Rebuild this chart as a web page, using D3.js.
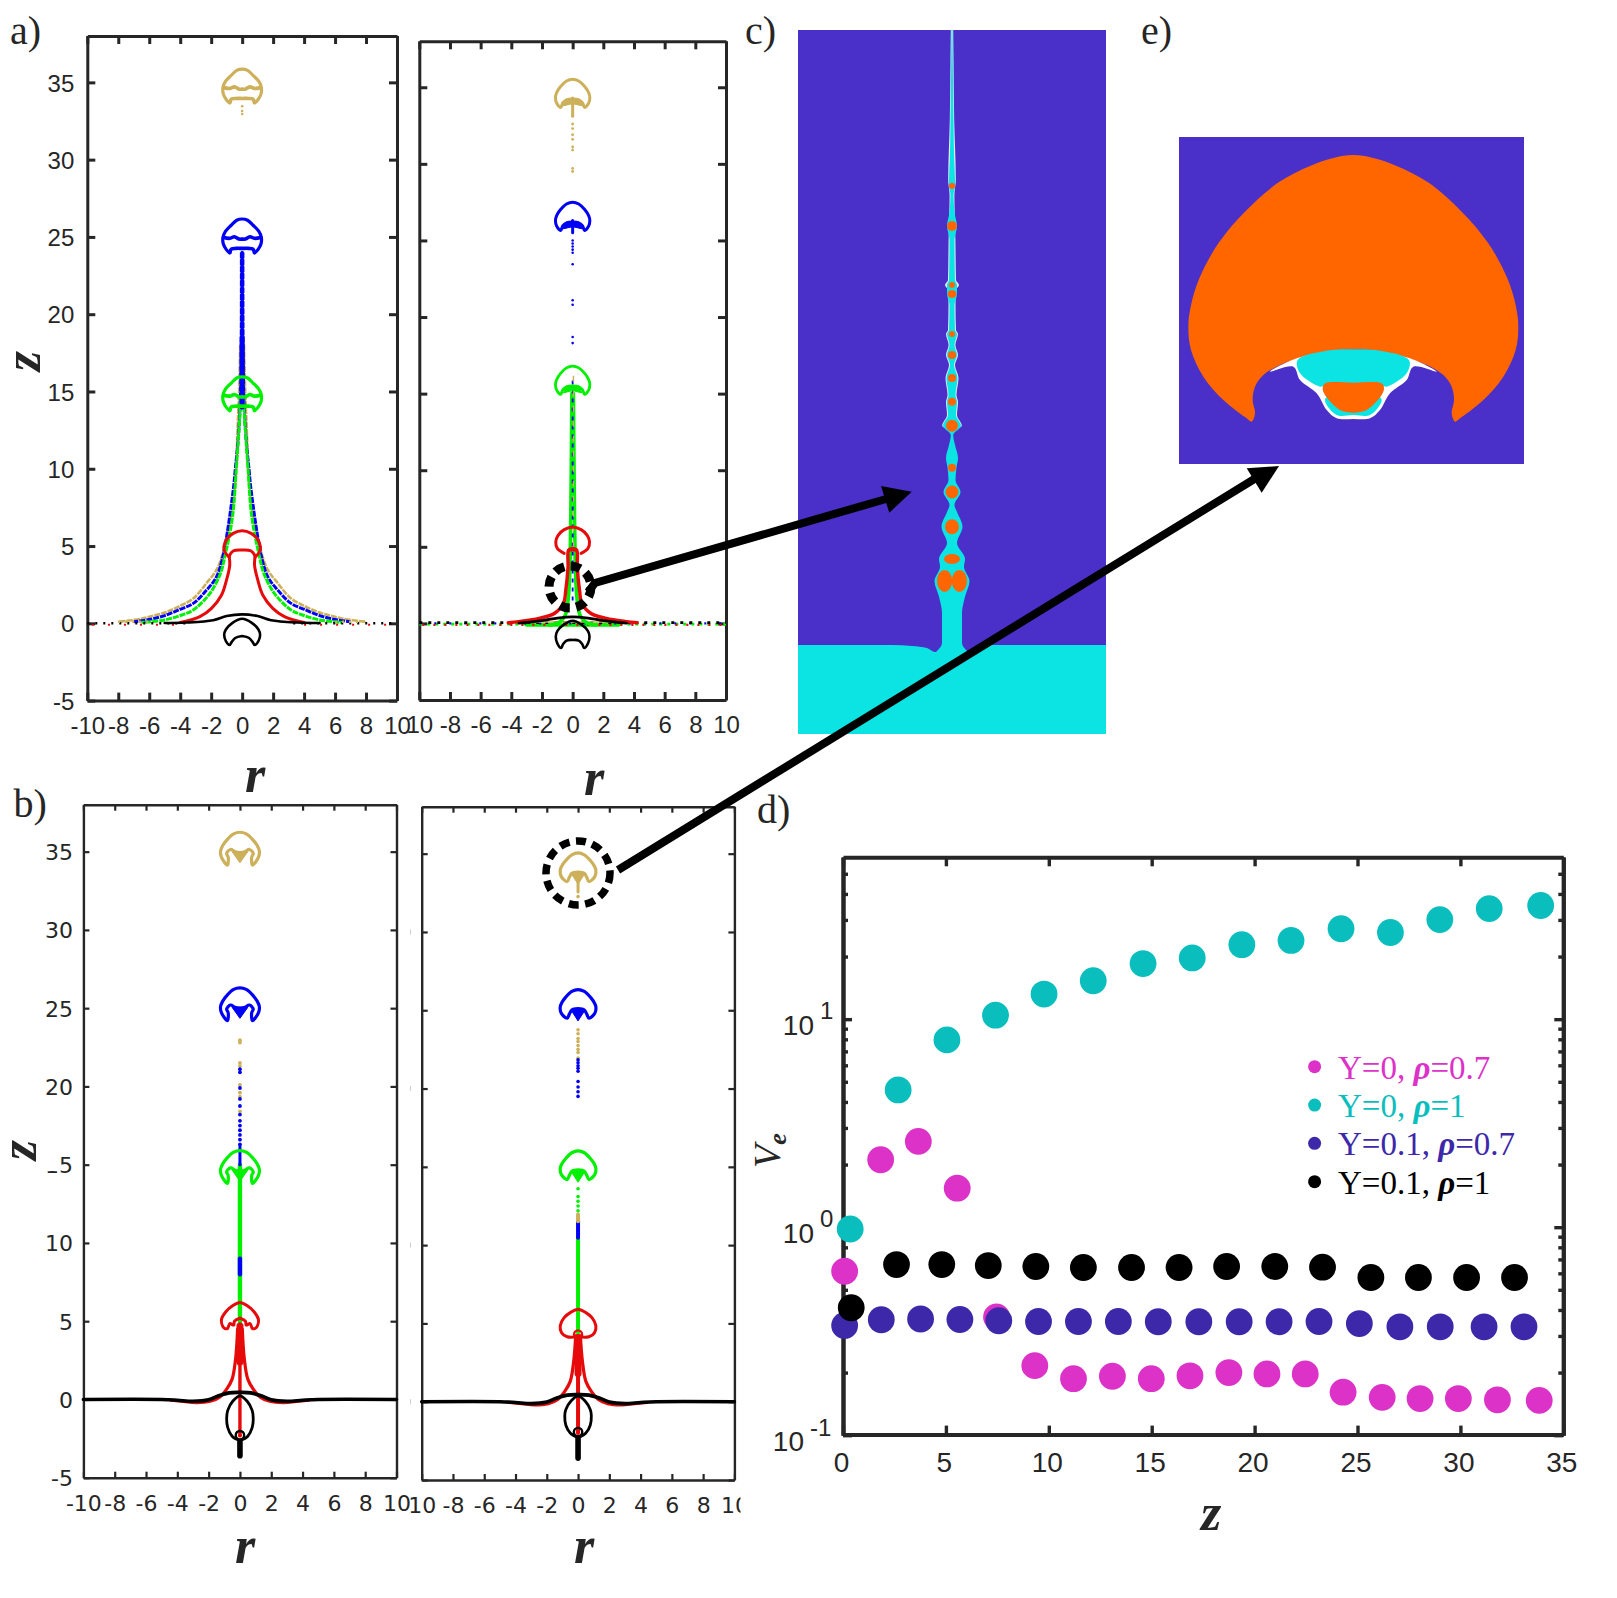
<!DOCTYPE html>
<html>
<head>
<meta charset="utf-8">
<script src="https://cdn.jsdelivr.net/npm/d3@7"></script>
<style>
  html, body { margin: 0; padding: 0; background: #fff; }
  svg { display: block; }
</style>
</head>
<body>
<svg id="chart" width="1617" height="1598"></svg>
<script>
// ---- contour data, all in r / z units, half profiles start on the axis ----
const rTicks = [-10, -8, -6, -4, -2, 0, 2, 4, 6, 8, 10];
const zTicks = [-5, 0, 5, 10, 15, 20, 25, 30, 35];
const gold = '#cdb05a', blue = '#0000f5', green = '#00f000', red = '#e60a0a', black = '#000';

// panel a, left
const a1CapOutline = [[0,0],[.35,-.08],[.72,-.42],[1.08,-.8],[1.24,-1.2],[1.22,-1.6],[1.02,-1.98],[.8,-2.2]];
const a1CapArc = [[0,-1.3],[.2,-1.3],[.5,-1.15],[.8,-1.25],[1.2,-1.2]];
const a1CapLow = [[0,-1.9],[.4,-1.9],[.7,-1.95],[.78,-2.15]];
const a1CapTops = [35.86, 26.16, 15.95];
const a1SkirtGold = [[.12,18],[.2,15],[.3,12.5],[.43,9.27],[.69,7.1],[1.23,4.6],[1.66,3.45],[2.3,2.6],[3.16,1.6],[4.02,1.12],[4.84,.75],[5.5,.55],[6.5,.3],[8,.1]];
const a1SkirtBlue = [[.05,24],[.1,15],[.25,12],[.44,10],[.58,8.6],[1.23,4.4],[1.66,3],[2.3,2.15],[3.16,1.29],[4.02,.9],[5,.5],[6,.25],[7,.1]];
const a1SkirtGreen = [[.08,14.5],[.22,12.3],[.38,10],[.62,6.9],[1.12,4.3],[1.4,3.23],[2.08,1.94],[3.16,.86],[3.9,.54],[5,.22],[6.5,.05]];
const a1SkirtRed = [[.84,4.35],[.8,3.77],[1.01,2.8],[1.33,1.83],[1.98,.97],[2.73,.43],[3.38,.2],[4,.05]];
const a1RedCap = [[0,5.99],[.58,5.82],[1,5.43],[1.18,4.96],[1.12,4.63],[.84,4.27]];
const a1RedArch = [[0,4.74],[.58,4.68],[.84,4.35]];
const a1BlackHump = [[0,.58],[1,.47],[1.87,.2],[3.6,.05],[5,.02]];
const crescent = [[0,.3],[.6,.05],[1.05,-.4],[1.16,-.75],[1.05,-1.15],[.8,-1.4],[.7,-1.25],[.45,-.95],[0,-.82]];
const a1TailGold = [33.45, 33.15, 32.95];

// panel a, right
const a2Cap = [[0,0],[.4,-.12],[.8,-.5],[1.05,-.9],[1.12,-1.2],[1.05,-1.55],[.78,-1.85],[.65,-1.55],[.4,-1.35],[0,-1.3]];
const a2CapTops = [35.53, 27.5, 16.8];
const a2TailGold = [32.6, 32.3, 31.9, 31.6, 31.1, 30.9, 29.7, 29.5];
const a2TailBlue = [25, 24.8, 24.6, 24.4, 24.2, 23.45, 21.1, 20.8, 18.7, 18.3];
const a2RedCap = [[0,6.3],[.55,6.12],[.95,5.75],[1.1,5.33],[1,4.9],[.55,4.57]];
const a2RedNeck = [[.02,4.87],[.26,4.79],[.3,3.66],[.45,2.15],[.6,1.3],[1.2,.65],[2.2,.33],[3.5,.12],[4.2,.04]];
const a2GreenNeck = [[.05,15],[.12,7],[.16,4.5],[.2,3],[.3,1.5],[.5,.5],[.9,.05],[1.5,-.1]];
const a2BlackHump = [[0,.43],[1,.35],[1.9,.2],[3.5,.02]];
const a2Crescent = [[0,.17],[.6,-.1],[1,-.5],[1.1,-.86],[1,-1.3],[.75,-1.6],[.62,-1.35],[.4,-1.12],[0,-1.08]];

// panel b, left
const b1Cap = [[0,0],[.4,-.1],[.8,-.45],[1.1,-.85],[1.24,-1.2],[1.2,-1.55],[1,-1.9],[.8,-2.1],[.75,-1.6],[.85,-1.35],[.6,-1.1],[.3,-1.25],[0,-1.3]];
const b1Wedge = [[0,-1.95],[.5,-1.25],[0,-1.25]];
const b1CapTops = [36.24, 26.3, 15.9];
const b1TailGold = [22.95, 22.8, 21.5, 21.3, 20.1, 19.6, 19.35, 18.4];
const b1TailBlue = [21.1, 20.9, 19.9, 19.2, 18.75, 18.2, 17.8, 17.5, 17.2, 16.9, 16.6, 16.3];
const b1RedCap = [[0,6.2],[.45,6],[.9,5.6],[1.18,5.1],[1.05,4.6],[.8,4.53],[.65,4.85],[.4,4.75],[.35,5],[0,5.2]];
const b1RedSkirt = [[.15,4.5],[.28,2.57],[.5,1.3],[.85,.66],[1.3,.15],[1.9,-.12],[2.8,-.2],[3.6,-.12],[4.4,-.05]];
const b1BlackLine = [[0,.45],[.7,.42],[1.4,.22],[2,-.02],[3,-.12],[4,-.05],[5,0],[10,0]];
const b1BlackLoop = [[0,.23],[.45,-.1],[.78,-.7],[.85,-1.25],[.78,-1.8],[.5,-2.35],[0,-2.64]];

// panel b, right
const b2Cap = [[0,0],[.4,-.12],[.8,-.5],[1.05,-.85],[1.14,-1.1],[1.08,-1.5],[.7,-1.83],[.55,-1.55],[.4,-1.3],[0,-1.22]];
const b2Wedge = [[0,-2],[.45,-1.3],[0,-1.3]];
const b2CapTops = [35.05, 26.32, 16.02];
const b2TailGold = [32.26, 23.75, 23.5, 23.2, 23, 22.75, 22.5, 22.3, 21.94];
const b2TailBlue = [21.83, 21.65, 21.45, 21.3, 21.1, 20.45, 20.1, 19.8, 19.5];
const b2TailGreen = [13.6, 13.1, 12.8, 12.5, 12.2];
const b2RedCap = [[0,5.9],[.45,5.72],[.9,5.35],[1.14,4.85],[1.05,4.4],[.7,4.15],[0,4.15]];
const b2BlackLoop = [[0,.36],[.45,.05],[.78,-.5],[.85,-.9],[.78,-1.5],[.5,-2],[0,-2.3]];

// ---- panel d ----
const zMajor = [0, 5, 10, 15, 20, 25, 30, 35];
const veMajor = [0.1, 1, 10];
const veExponents = ['-1', '0', '1'];
const veMinor = [.2,.3,.4,.5,.6,.7,.8,.9,2,3,4,5,6,7,8,9,20,30,40,50];

const zCyan = [.35,2.68,5.05,7.41,9.77,12.16,14.58,16.97,19.38,21.77,24.2,26.6,29,31.4,33.9];
const veCyan = [.98,4.57,7.95,10.45,13.2,15.3,18.5,19.7,22.8,23.9,27.2,26.1,30.1,34,35.2];
const zMagenta = [.08,1.83,3.66,5.55,7.46,9.32,11.2,13.09,14.98,16.86,18.75,20.6,22.46,24.3,26.2,28.04,29.9,31.8,33.83];
const veMagenta = [.614,2.11,2.585,1.54,.37,.216,.187,.192,.187,.193,.2,.197,.197,.161,.152,.15,.15,.148,.147];
const zIndigo = [.08,1.86,3.77,5.68,7.57,9.5,11.44,13.38,15.32,17.29,19.25,21.19,23.13,25.09,27.06,29.02,31.15,33.09];
const veIndigo = [.337,.359,.362,.36,.355,.352,.352,.352,.351,.351,.351,.351,.352,.344,.332,.332,.332,.332];
const zBlack = [.4,2.6,4.8,7.06,9.37,11.68,14.02,16.33,18.64,20.98,23.3,25.65,27.96,30.3,32.63];
const veBlack = [.41,.661,.661,.654,.647,.64,.64,.64,.647,.647,.642,.573,.573,.573,.573];

const legendNames = [['Y=0, ', '=0.7'], ['Y=0, ', '=1'], ['Y=0.1, ', '=0.7'], ['Y=0.1, ', '=1']];
const legendColors = ['#dc32c8', '#0abebe', '#3c28a8', '#000'];

// ---- panel c, image rows: [row, half width] and droplets [row, rx, ry] ----
const jetProfile = [[30,.5],[60,.8],[120,1.5],[160,2.2],[180,3],[186,3],[195,1.5],[215,3],[226,5],[240,2.5],[280,3],[285,5],[294,5],[305,2.5],[330,3],[334,5],[345,2.5],[355,5],[365,2],[378,5.5],[395,3.5],[402,5],[415,4],[425.7,9],[435,1.2],[445,3],[458,6],[467.7,4.5],[480,3.5],[492,8.5],[505,2.5],[512,5],[526.7,10.5],[543,5],[559,13],[566.7,12],[581,17.5],[596.7,13],[613,10],[643,10],[652,16]];
const jetRims = [[30,1.2],[60,1.5],[120,2.2],[180,3.8],[195,2.4],[240,3.4],[280,4],[285,7],[290,4],[305,3.5],[330,4],[334,6],[345,3.4],[355,6],[365,3],[378,6.5],[395,4.5],[402,6],[415,5],[425.7,9.8],[430,2]];
const jetDroplets = [[186,3,3],[226,5,5],[285,3,3],[294,4.5,4],[334,3,3],[355,4,4],[378,4,4],[401.7,4,4],[425.7,6,6],[467.7,4,4],[492,6.5,6.5],[526.7,7,7.5],[559,8,5]];
const jetLobes = [[-7.4,581,7.6,11],[7.4,581,7.6,11]];
const poolTop = [[-154,645],[-60,645],[-40,646],[-25,648],[-17,652],[15,652],[25,647],[40,645],[154,645]];

// ---- panel e, image units: half outline from the top of the drop ----
const dropOutline = [[0,105],[60,114],[130,138],[224,187],[325,275],[405,370],[462,475],[488,560],[495,620],[487,690],[450,770],[390,840],[320,895],[305,905],[295,880],[302,840],[295,800],[270,765],[220,735],[170,718],[120,705],[70,692],[0,688]];
const dropWhite = [[0,897],[50,895],[80,870],[110,820],[160,780],[180,740],[250,755],[170,715],[80,695],[0,690]];
const dropCyan = [[0,790],[90,798],[100,800],[160,760],[167,720],[80,692],[0,688]];
const dropCyanLow = [[0,885],[50,885],[85,840],[60,820],[0,820]];
const dropInner = [[0,788],[85,790],[92,803],[85,825],[40,870],[5,878],[0,878]];

// ---- drawing helpers ----
const svg = d3.select('#chart');
const ink = '#262626';

const mirror = half => half.slice().reverse().map(([a, b]) => [-a, b]).concat(half.slice(1));
const shift = (half, dz) => half.map(([a, b]) => [a, b + dz]);

function makePanel(p) {
  const x = d3.scaleLinear([-10, 10], [p.left, p.right]);
  const y = d3.scaleLinear([-5, 38], [p.bottom, p.top]);
  const labelStyle = sel => {
    sel.selectAll('text').attr('font-family', p.font).attr('font-size', p.fontSize).attr('fill', ink);
  };
  const inkAxis = sel => {
    sel.selectAll('line').attr('stroke', ink).attr('stroke-width', p.tickWidth);
    sel.select('.domain').attr('stroke', ink).attr('stroke-width', p.frameWidth);
  };
  const tick = p.tick;
  const bottom = svg.append('g').attr('transform', `translate(0,${p.bottom})`)
    .call(d3.axisBottom(x).tickValues(rTicks).tickSizeInner(-tick).tickSizeOuter(0).tickPadding(p.xPad)
      .tickFormat((d, i) => p.xLabels ? p.xLabels[i] : d));
  inkAxis(bottom); labelStyle(bottom);
  if (p.clipRight) {
    // the last label ran off the pasted figure, only the part inside stays
    svg.append('clipPath').attr('id', 'clip' + p.id).append('rect')
      .attr('x', -40).attr('y', -10).attr('width', 40 + p.clipRight - x(10)).attr('height', 100);
    bottom.selectAll('.tick').filter(d => d === 10).select('text').attr('clip-path', `url(#clip${p.id})`);
  }
  const top = svg.append('g').attr('transform', `translate(0,${p.top})`)
    .call(d3.axisTop(x).tickValues(rTicks).tickSizeInner(-tick).tickSizeOuter(0).tickFormat(''));
  inkAxis(top);
  const left = svg.append('g').attr('transform', `translate(${p.left},0)`)
    .call(d3.axisLeft(y).tickValues(zTicks).tickSizeInner(-tick).tickSizeOuter(0).tickPadding(p.yPad)
      .tickFormat(p.yLabels ? String : ''));
  inkAxis(left); labelStyle(left);
  left.selectAll('text').attr('dy', '0.36em');
  const right = svg.append('g').attr('transform', `translate(${p.right},0)`)
    .call(d3.axisRight(y).tickValues(zTicks).tickSizeInner(-tick).tickSizeOuter(0).tickFormat(''));
  inkAxis(right);
  const line = d3.line().x(d => x(d[0])).y(d => y(d[1])).curve(d3.curveCatmullRom.alpha(0.5));
  const straight = d3.line().x(d => x(d[0])).y(d => y(d[1]));
  const g = svg.append('g').attr('fill', 'none').attr('stroke-linecap', 'round').attr('stroke-linejoin', 'round');
  return {
    x, y, g,
    stroke(points, color, width, dash, smooth = true) {
      return g.append('path').attr('d', (smooth ? line : straight)(points))
        .attr('stroke', color).attr('stroke-width', width).attr('stroke-dasharray', dash || null)
        .attr('stroke-linecap', dash ? 'butt' : 'round');
    },
    fill(points, color) {
      g.append('path').attr('d', straight(points)).attr('fill', color).attr('stroke', color).attr('stroke-width', 1);
    },
    dots(zs, color, radius) {
      g.selectAll(null).data(zs).enter().append('circle')
        .attr('cx', x(0)).attr('cy', d => y(d)).attr('r', radius).attr('fill', color).attr('stroke', 'none');
    },
    sides(half, color, width, dash) {
      this.stroke(half, color, width, dash);
      this.stroke(half.map(([a, b]) => [-a, b]), color, width, dash);
    }
  };
}

// ---- panel a, left ----
const a1 = makePanel({ id: 'a1', left: 87.3, right: 397, top: 36, bottom: 700.6, font: 'Liberation Sans', fontSize: 24,
  tick: 8, frameWidth: 3, tickWidth: 3, xPad: 16, yPad: 13, yLabels: true });
a1.sides(a1SkirtGold, gold, 2.6, '6 1');
a1.sides(a1SkirtBlue, blue, 3, '6 1');
a1.sides(a1SkirtGreen, green, 3, '6 1');
a1.stroke([[0,14],[0,24]], blue, 3.4, null, false);
a1.stroke([[0,14],[0,18.5]], blue, 5, null, false);
a1.stroke([[-10,0],[-3.3,0]], black, 2.5, '2 6', false);
a1.stroke([[3.3,0],[10,0]], black, 2.5, '2 6', false);
a1.stroke([[-9.7,-.1],[-4,-.1]], red, 2, '2 14', false);
a1.stroke([[4,-.1],[9.7,-.1]], red, 2, '2 14', false);
a1.stroke([[-8,.1],[-6,.1]], gold, 2.5, '2 5', false);
a1.stroke([[6,.1],[8,.1]], gold, 2.5, '2 5', false);
[gold, blue, green].forEach((c, i) => {
  const t = a1CapTops[i];
  a1.stroke(shift(mirror(a1CapOutline), t), c, 3.2);
  a1.stroke(shift(mirror(a1CapArc), t), c, 3.6);
  a1.stroke(shift(mirror(a1CapLow), t), c, 3.6);
});
a1.dots(a1TailGold, gold, 1.3);
a1.sides(a1SkirtRed, red, 3);
a1.stroke(mirror(a1RedCap), red, 3);
a1.stroke(mirror(a1RedArch), red, 3);
a1.stroke(mirror(a1BlackHump), black, 2.6);
a1.stroke(mirror(crescent), black, 2.6);

// ---- panel a, right ----
const a2 = makePanel({ id: 'a2', left: 419.3, right: 726, top: 41.3, bottom: 700, font: 'Liberation Sans', fontSize: 24,
  tick: 8, frameWidth: 3, tickWidth: 3, xPad: 15.5, yPad: 10, yLabels: false,
  xLabels: ['10', -8, -6, -4, -2, 0, 2, 4, 6, 8, 10] });
a2.stroke([[-3,-.1],[3,-.1]], green, 3.5, null, false);
a2.stroke([[-10,-.05],[10,-.05]], green, 2.6, '3 5', false);
a2.stroke([[-10,0],[10,0]], blue, 2.4, '2 13', false);
a2.stroke([[-9.8,-.1],[9.8,-.1]], red, 2.2, '2 9', false);
a2.stroke([[-10,.05],[10,.05]], black, 2.6, '3 6', false);
a2.stroke([[-3,.1],[3,.1]], gold, 1.5, null, false);
a2.sides(a2GreenNeck, green, 3.6);
a2.stroke([[0,1.5],[0,16]], blue, 1.8, '4 5', false);
a2.stroke([[.05,5],[.05,16.3]], gold, 1.4, '6 9', false);
[gold, blue, green].forEach((c, i) => {
  const t = a2CapTops[i];
  a2.stroke(shift(mirror(a2Cap), t), c, i === 2 ? 2.8 : 3);
});
a2.stroke([[0,34.3],[0,33.1]], gold, 3, null, false);
a2.stroke([[0,26.3],[0,25.5]], blue, 3, null, false);
a2.dots(a2TailGold, gold, 1.4);
a2.dots(a2TailBlue, blue, 1.3);
a2.fill(shift(mirror([[0,-1.3],[.4,-1.3],[.65,-1.75],[0,-1.6]]), a2CapTops[0]), gold);
a2.fill(shift(mirror([[0,-1.3],[.4,-1.3],[.65,-1.75],[0,-1.6]]), a2CapTops[1]), blue);
a2.fill(shift(mirror([[0,-1.3],[.4,-1.3],[.6,-1.75],[0,-1.6]]), a2CapTops[2]), green);
a2.stroke(mirror(a2RedCap), red, 3);
a2.sides(a2RedNeck, red, 3.4);
a2.stroke([[-.26,4.79],[.26,4.79]], red, 3, null, false);
a2.stroke(mirror(a2BlackHump), black, 2.8);
a2.stroke(mirror(a2Crescent), black, 2.6);

// ---- panel b, left ----
const b1 = makePanel({ id: 'b1', left: 83.4, right: 396.5, top: 804.7, bottom: 1477.7, font: 'DejaVu Sans', fontSize: 22,
  tick: 6, frameWidth: 2.4, tickWidth: 2.2, xPad: 18, yPad: 10.5, yLabels: true });
b1.stroke([[0,5],[0,15]], green, 4.4, null, false);
b1.stroke([[0,8],[0,9]], blue, 4.4, null, false);
b1.stroke([[0,15],[0,16.2]], blue, 3, null, false);
b1.dots(b1TailGold, gold, 1.9);
b1.dots(b1TailBlue, blue, 1.9);
[gold, blue, green].forEach((c, i) => {
  const t = b1CapTops[i];
  b1.stroke(shift(mirror(b1Cap), t), c, 3.2);
  b1.fill(shift(mirror(b1Wedge), t), c);
});
b1.stroke(mirror(b1RedCap), red, 3);
b1.sides(b1RedSkirt, red, 3.2);
b1.stroke([[0,4.8],[0,-2.3]], red, 3.4, null, false);
b1.stroke([[0,4.7],[0,2.4]], red, 7, null, false);
b1.stroke(b1BlackLine, black, 3.6);
b1.stroke(b1BlackLine.map(([a, b]) => [-a, b]), black, 3.6);
b1.stroke(mirror(b1BlackLoop), black, 2.8);
b1.g.append('circle').attr('cx', b1.x(0)).attr('cy', b1.y(-2.28)).attr('r', 4.2).attr('stroke', black).attr('stroke-width', 2.4);
b1.dots([-2.3], red, 2);
b1.stroke([[0,-2.7],[0,-3.6]], black, 5.6, null, false);

// the "1" of the 15 label was cut away in the original figure
svg.append('rect').attr('x', 38).attr('y', 1152).attr('width', 20).attr('height', 19).attr('fill', '#fff');

// ---- panel b, right ----
const b2 = makePanel({ id: 'b2', left: 421.7, right: 734.4, top: 806.7, bottom: 1480, font: 'DejaVu Sans', fontSize: 22,
  tick: 6, frameWidth: 2.4, tickWidth: 2.2, xPad: 17, yPad: 10, yLabels: false, clipRight: 740,
  xLabels: ['10', -8, -6, -4, -2, 0, 2, 4, 6, 8, 10] });
b2.stroke([[0,4.4],[0,10.47]], green, 4, null, false);
b2.stroke([[0,10.47],[0,11.53]], blue, 4, null, false);
b2.stroke([[0,11.53],[0,11.96]], gold, 4, null, false);
b2.dots(b2TailGold, gold, 1.8);
b2.dots(b2TailBlue, blue, 1.8);
b2.dots(b2TailGreen, green, 1.8);
[gold, blue, green].forEach((c, i) => {
  const t = b2CapTops[i];
  b2.stroke(shift(mirror(b2Cap), t), c, 3.2);
  b2.fill(shift(mirror(b2Wedge), t), c);
});
b2.stroke([[0,33.2],[0,32.55]], gold, 3, null, false);
b2.stroke(mirror(b2RedCap), red, 3);
b2.sides(b1RedSkirt.map(([a, b]) => [a, b > 4 ? 4.2 : b]), red, 3.2);
b2.g.append('circle').attr('cx', b2.x(0)).attr('cy', b2.y(4.3)).attr('r', 4).attr('stroke', red).attr('stroke-width', 2.4);
b2.stroke([[0,4.2],[0,-1.94]], red, 4, null, false);
b2.stroke([[0,4.1],[0,1.8]], red, 7, null, false);
b2.stroke(b1BlackLine, black, 3.6);
b2.stroke(b1BlackLine.map(([a, b]) => [-a, b]), black, 3.6);
b2.stroke(mirror(b2BlackLoop), black, 2.8);
b2.g.append('circle').attr('cx', b2.x(0)).attr('cy', b2.y(-1.94)).attr('r', 4.2).attr('stroke', black).attr('stroke-width', 2.4);
b2.dots([-2], red, 2);
b2.stroke([[0,-2.35],[0,-3.6]], black, 5.6, null, false);

// specks left between the pasted b panels
svg.append('g').selectAll('rect').data([30, 20, 10, 0]).enter().append('rect')
  .attr('x', 410).attr('y', d => b2.y(d) - 2.5).attr('width', 1).attr('height', 5).attr('fill', '#ccc');

// ---- axis names and panel letters ----
const serif = 'Liberation Serif';
function axisName(text, x, y, rotate) {
  svg.append('text').attr('transform', `translate(${x},${y})` + (rotate ? ' rotate(-90)' : ''))
    .attr('font-family', serif).attr('font-style', 'italic').attr('font-weight', 'bold')
    .attr('font-size', 52).attr('text-anchor', 'middle').attr('fill', ink).text(text);
}
axisName('r', 255, 792);
axisName('r', 594, 795);
axisName('r', 245, 1563);
axisName('r', 584, 1563);
axisName('z', 40, 361, true);
axisName('z', 36, 1150, true);
axisName('z', 1211, 1530);

[['a)', 10, 44], ['b)', 13.5, 817], ['c)', 745, 44], ['d)', 757, 823], ['e)', 1141, 44]].forEach(([t, x, y]) => {
  svg.append('text').attr('x', x).attr('y', y).attr('font-family', serif).attr('font-size', 40).attr('fill', ink).text(t);
});

// ---- panel c ----
const cx = d3.scaleLinear([-154, 154], [798, 1106]);
const cy = d3.scaleLinear([30, 734], [30, 734]);
const purple = '#4a2fc8', aqua = '#0ce4e4', orange = '#ff6600';
svg.append('rect').attr('x', cx(-154)).attr('y', cy(30)).attr('width', cx(154) - cx(-154)).attr('height', cy(734) - cy(30)).attr('fill', purple);
const jetArea = d3.area().y(d => cy(d[0])).x0(d => cx(-d[1])).x1(d => cx(d[1])).curve(d3.curveMonotoneY);
svg.append('path').attr('d', jetArea(jetRims)).attr('fill', '#e4ecfb');
svg.append('path').attr('d', jetArea(jetProfile)).attr('fill', aqua);
svg.append('path').attr('d', d3.area().x(d => cx(d[0])).y0(cy(734)).y1(d => cy(d[1])).curve(d3.curveMonotoneX)(poolTop)).attr('fill', aqua);
svg.selectAll('.drop').data(jetDroplets).enter().append('ellipse').attr('class', 'drop')
  .attr('cx', cx(0)).attr('cy', d => cy(d[0])).attr('rx', d => d[1]).attr('ry', d => d[2]).attr('fill', orange);
svg.selectAll('.lobe').data(jetLobes).enter().append('ellipse').attr('class', 'lobe')
  .attr('cx', d => cx(d[0])).attr('cy', d => cy(d[1])).attr('rx', d => d[2]).attr('ry', d => d[3]).attr('fill', orange);

// ---- panel e ----
const ex = d3.scaleLinear([-523, 512], [1179, 1524]);
const ey = d3.scaleLinear([51, 1032], [137, 464]);
svg.append('rect').attr('x', ex(-523)).attr('y', ey(51)).attr('width', ex(512) - ex(-523)).attr('height', ey(1032) - ey(51)).attr('fill', purple);
const dropLine = d3.line().x(d => ex(d[0])).y(d => ey(d[1])).curve(d3.curveCatmullRomClosed.alpha(0.5));
const dropShape = (half, color) => svg.append('path').attr('d', dropLine(mirror(half))).attr('fill', color);
dropShape(dropOutline, orange);
dropShape(dropWhite, '#fff');
dropShape(dropCyan, aqua);
dropShape(dropCyanLow, aqua);
dropShape(dropInner, orange);

// ---- panel d ----
const dx = d3.scaleLinear([0, 35], [843, 1563.3]);
const dy = d3.scaleLog([0.1, 60], [1435.2, 857.3]);
function dAxis(gen, tx, ty, size) {
  const g = svg.append('g').attr('transform', `translate(${tx},${ty})`).call(gen.tickSizeOuter(0));
  g.selectAll('line').attr('stroke', ink).attr('stroke-width', size);
  g.select('.domain').attr('stroke', ink).attr('stroke-width', 4);
  return g;
}
const dBottom = dAxis(d3.axisBottom(dx).tickValues(zMajor).tickSizeInner(-9).tickPadding(17.5), 0, 1434.6, 3.4);
dBottom.selectAll('text').attr('font-family', 'Liberation Sans').attr('font-size', 28).attr('fill', ink).attr('dx', -2);
dAxis(d3.axisTop(dx).tickValues(zMajor).tickSizeInner(-9).tickFormat(''), 0, 857.3, 3.4);
dAxis(d3.axisLeft(dy).tickValues(veMajor).tickSizeInner(-9).tickFormat(''), 843, 0, 3.4);
dAxis(d3.axisRight(dy).tickValues(veMajor).tickSizeInner(-9).tickFormat(''), 1563.3, 0, 3.4);
dAxis(d3.axisLeft(dy).tickValues(veMinor).tickSizeInner(-5).tickFormat(''), 843, 0, 3.4);
dAxis(d3.axisRight(dy).tickValues(veMinor).tickSizeInner(-5).tickFormat(''), 1563.3, 0, 3.4);

veMajor.forEach((v, i) => {
  const low = v === 0.1;
  svg.append('text').attr('x', low ? 804 : 814).attr('y', dy(v) + 16).attr('text-anchor', 'end')
    .attr('font-family', 'Liberation Sans').attr('font-size', 28).attr('fill', ink).text('10');
  svg.append('text').attr('x', low ? 810 : 820).attr('y', dy(v) + (low ? 1 : 0)).attr('font-family', 'Liberation Sans')
    .attr('font-size', 24).attr('fill', ink).text(veExponents[i]);
});

const veLabel = svg.append('text').attr('transform', 'translate(780,1168) rotate(-90)')
  .attr('font-family', serif).attr('font-style', 'italic').attr('fill', ink);
veLabel.append('tspan').attr('font-size', 38).text('V');
veLabel.append('tspan').attr('font-size', 26).attr('font-weight', 'bold').attr('dy', 6).text('e');

const scatter = [
  [zMagenta, veMagenta, legendColors[0]],
  [zCyan, veCyan, legendColors[1]],
  [zIndigo, veIndigo, legendColors[2]],
  [zBlack, veBlack, legendColors[3]]
];
scatter.forEach(([zs, vs, color]) => {
  svg.append('g').selectAll('circle').data(zs).enter().append('circle')
    .attr('cx', d => dx(d)).attr('cy', (d, i) => dy(vs[i])).attr('r', 13.4).attr('fill', color);
});

const legendRow = d3.scalePoint().domain(d3.range(4)).range([1066.7, 1181.7]);
legendNames.forEach((names, i) => {
  svg.append('circle').attr('cx', 1314.6).attr('cy', legendRow(i)).attr('r', 6.5).attr('fill', legendColors[i]);
  const t = svg.append('text').attr('x', 1338).attr('y', legendRow(i) + 12)
    .attr('font-family', serif).attr('font-size', 33).attr('fill', legendColors[i]);
  t.append('tspan').text(names[0]);
  t.append('tspan').attr('font-style', 'italic').attr('font-weight', 'bold').text('\u03c1');
  t.append('tspan').text(names[1]);
});

// ---- annotations on top of everything ----
svg.append('circle').attr('cx', 570).attr('cy', 587).attr('r', 21).attr('fill', 'none')
  .attr('stroke', '#000').attr('stroke-width', 9).attr('stroke-dasharray', '10 6.5');
svg.append('circle').attr('cx', 578).attr('cy', 873).attr('r', 32).attr('fill', 'none')
  .attr('stroke', '#000').attr('stroke-width', 7.5).attr('stroke-dasharray', '10 6.5');

const arrowLine = d3.line();
svg.append('path').attr('d', arrowLine([[588, 592], [595, 583], [886, 499]]))
  .attr('fill', 'none').attr('stroke', '#000').attr('stroke-width', 8);
svg.append('polygon').attr('points', '911.7,491.7 881,486 889.3,512.7').attr('fill', '#000');
svg.append('path').attr('d', arrowLine([[618, 870], [1256, 478]]))
  .attr('fill', 'none').attr('stroke', '#000').attr('stroke-width', 8);
svg.append('polygon').attr('points', '1279,466 1246.7,468.3 1261.7,492.7').attr('fill', '#000');
</script>
</body>
</html>
